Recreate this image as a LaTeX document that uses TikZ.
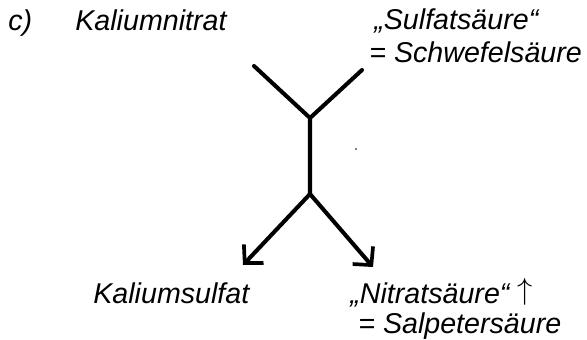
\documentclass[tikz,border=0pt]{standalone}
\usepackage{fontspec}
\setmainfont{Liberation Sans}
\usetikzlibrary{arrows.meta}

\begin{document}
\begin{tikzpicture}[x=0.02cm,y=-0.02cm,
    lbl/.style={anchor=base west,inner sep=0pt,font=\fontsize{16.3}{19}\selectfont\itshape},
    branch/.style={line width=2.3pt,line cap=round,line join=round},
    arr/.style={branch,-{Straight Barb[length=2.6mm,width=5.4mm,line width=2.1pt]}}]
  \useasboundingbox (0,0) rectangle (587,340);
  %% Labels
  \node[lbl] (part) at (8,31) {c)};
  \node[lbl] (kno) at (75,31) {Kaliumnitrat};
  \node[lbl] (sulf) at (374,30) {„Sulfatsäure“};
  \node[lbl] (schw) at (369,63) {= Schwefelsäure};
  \node[lbl] (kso) at (93,303) {Kaliumsulfat};
  \node[lbl] (nitr) at (350,303) {„Nitratsäure“ {\upshape\raisebox{0.12em}{$\uparrow$}}};
  \node[lbl] (salp) at (358,333) {= Salpetersäure};
  %% Reaction cross
  \coordinate (in1) at (254,66);
  \coordinate (in2) at (362,70);
  \coordinate (top) at (310,118);
  \coordinate (bot) at (310,194);
  \coordinate (out1) at (243,265);
  \coordinate (out2) at (373,267);
  \draw[branch] (in1) -- (top) -- (bot);
  \draw[branch] (in2) -- (top);
  \draw[arr] (bot) -- (out1);
  \draw[arr] (bot) -- (out2);
  %% stray dot
  \fill (356,149) circle (0.8);
\end{tikzpicture}
\end{document}
